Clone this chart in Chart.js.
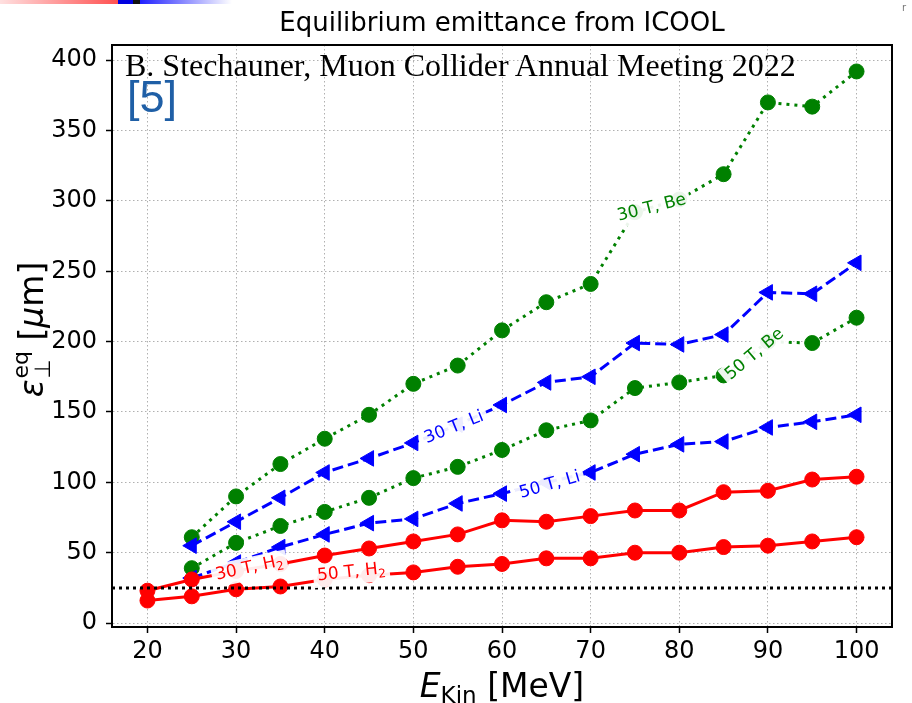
<!DOCTYPE html>
<html>
<head>
<meta charset="utf-8">
<script src="https://cdn.jsdelivr.net/npm/chart.js@4.4.0/dist/chart.umd.min.js"></script>
<style>
  html, body { margin: 0; padding: 0; background: #fff; }
  #wrap { position: relative; width: 912px; height: 703px; }
  #stripA { position: absolute; left: 0; top: 0; width: 118px; height: 4px; background: linear-gradient(to right, #ffe0e0, #ff5050); }
  #stripB { position: absolute; left: 118px; top: 0; width: 15px; height: 4px; background: #0000e0; }
  #stripC { position: absolute; left: 133px; top: 0; width: 7px; height: 4px; background: #111; }
  #stripD { position: absolute; left: 140px; top: 0; width: 92px; height: 4px; background: linear-gradient(to right, #2020ff, #ffffff); }
  #corner { position: absolute; left: 902px; top: 2px; font: 10px "DejaVu Sans"; color: #777; }
  #author { position: absolute; left: 125px; top: 47px; font: 32px "Liberation Serif"; color: #000; white-space: nowrap; }
  #ref { position: absolute; left: 127px; top: 71px; font: 45px "Liberation Sans"; color: #1f5fa6; }
</style>
</head>
<body>
<div id="wrap">
  <canvas id="myChart" width="912" height="703"></canvas>
  <div id="stripA"></div><div id="stripB"></div><div id="stripC"></div><div id="stripD"></div>
  <div id="corner">r</div>
  <div id="author">B. Stechauner, Muon Collider Annual Meeting 2022</div>
  <div id="ref">[5]</div>
</div>
<script>
// Daten
const energy = [20, 25, 30, 35, 40, 45, 50, 55, 60, 65, 70, 75, 80, 85, 90, 95, 100];
const be30 = [null, 61, 90, 113, 131, 148, 170, 183, 208, 228, 241, 292, 301, 319, 370, 367, 392];
const li30 = [null, 55, 72, 89, 107, 117, 128, 141, 155, 171, 175, 199, 198, 205, 235, 234, 256];
const be50 = [null, 39, 57, 69, 79, 89, 103, 111, 123, 137, 144, 167, 171, 176, 200, 199, 217];
const li50 = [null, 32, 43, 54, 63, 71, 74, 85, 92, 100, 107, 120, 127, 129, 139, 143, 148];
const h2_30 = [23, 31, 37, 42, 48, 53, 58, 63, 73, 72, 76, 80, 80, 93, 94, 102, 104];
const h2_50 = [16, 19, 24, 26, 31, 34, 36, 40, 42, 46, 46, 50, 50, 54, 55, 58, 61];
const limitLine = [25, 25];
const limitX = [16, 104];
const xTicks = [20, 30, 40, 50, 60, 70, 80, 90, 100];
const yTicks = [0, 50, 100, 150, 200, 250, 300, 350, 400];

// Inline-Beschriftungen: [Text, x, y, Winkel, Farbe, Index]
const lineLabels = [
  ['30 T, Be', 76.9, 295, -14, 'green', false],
  ['50 T, Be', 88.5, 191, -40, 'green', false],
  ['30 T, Li', 54.6, 139, -22, 'blue', false],
  ['50 T, Li', 65.4, 98, -16, 'blue', false],
  ['30 T, H', 31.5, 39, -12, 'red', true],
  ['50 T, H', 43.0, 36, -6, 'red', true],
];

function pts(vals) {
  return vals.map((v, i) => ({ x: energy[i], y: v }));
}

const FONT = '"DejaVu Sans", sans-serif';

const labelPlugin = {
  id: 'labels',
  afterDatasetsDraw(chart) {
    const ctx = chart.ctx;
    const xs = chart.scales.x, ys = chart.scales.y;
    lineLabels.forEach(([txt, lx, ly, ang, col, sub]) => {
      const px = xs.getPixelForValue(lx), py = ys.getPixelForValue(ly);
      ctx.save();
      ctx.translate(px, py);
      ctx.rotate(ang * Math.PI / 180);
      ctx.font = '17px ' + FONT;
      let w = ctx.measureText(txt).width;
      let ws = 0;
      if (sub) { ctx.font = '12px ' + FONT; ws = ctx.measureText('2').width; }
      const tw = w + ws;
      ctx.fillStyle = 'rgba(255,255,255,0.92)';
      ctx.fillRect(-tw / 2 - 4, -11, tw + 8, 23);
      ctx.fillStyle = col;
      ctx.textBaseline = 'middle';
      ctx.font = '17px ' + FONT;
      ctx.fillText(txt, -tw / 2, 0);
      if (sub) { ctx.font = '12px ' + FONT; ctx.fillText('2', -tw / 2 + w, 5); }
      ctx.restore();
    });
  },
  afterDraw(chart) {
    const ctx = chart.ctx;
    const a = chart.chartArea;
    ctx.save();
    ctx.strokeStyle = '#000';
    ctx.lineWidth = 2;
    ctx.strokeRect(a.left, a.top, a.right - a.left, a.bottom - a.top);
    // Titel
    ctx.fillStyle = '#000';
    ctx.font = '26px ' + FONT;
    ctx.textAlign = 'center';
    ctx.textBaseline = 'alphabetic';
    ctx.fillText('Equilibrium emittance from ICOOL', (a.left + a.right) / 2, 31);
    ctx.textAlign = 'left';
    // x-Achsenbeschriftung
    const segX = [
      ['E', 'italic 33px ' + FONT, 0],
      ['Kin', '23px ' + FONT, 6],
      [' [MeV]', '33px ' + FONT, 0],
    ];
    let total = 0;
    segX.forEach(s => { ctx.font = s[1]; total += ctx.measureText(s[0]).width; });
    let cx = (a.left + a.right) / 2 - total / 2;
    segX.forEach(s => { ctx.font = s[1]; ctx.fillText(s[0], cx, 697 + s[2]); cx += ctx.measureText(s[0]).width; });
    // y-Achsenbeschriftung
    ctx.translate(43, 330);
    ctx.rotate(-Math.PI / 2);
    ctx.font = 'italic 33px ' + FONT;
    const we = ctx.measureText('\u03b5').width;
    ctx.font = '22px ' + FONT;
    const wsub = Math.max(ctx.measureText('\u22a5').width, ctx.measureText('eq').width);
    ctx.font = '33px ' + FONT;
    const wb = ctx.measureText(' [').width;
    ctx.font = 'italic 33px ' + FONT;
    const wmu = ctx.measureText('\u03bc').width;
    ctx.font = '33px ' + FONT;
    const wm = ctx.measureText('m]').width;
    const tot = we + wsub + wb + wmu + wm;
    let yx = -tot / 2;
    ctx.font = 'italic 33px ' + FONT;
    ctx.fillText('\u03b5', yx, 0); yx += we + 1;
    ctx.font = '22px ' + FONT;
    ctx.fillText('\u22a5', yx, 7);
    ctx.fillText('eq', yx, -15); yx += wsub;
    ctx.font = '33px ' + FONT;
    ctx.fillText(' [', yx, 0); yx += wb;
    ctx.font = 'italic 33px ' + FONT;
    ctx.fillText('\u03bc', yx, 0); yx += wmu;
    ctx.font = '33px ' + FONT;
    ctx.fillText('m]', yx, 0);
    ctx.restore();
  }
};

function series(vals, color, dash, style) {
  return {
    data: pts(vals),
    borderColor: color,
    backgroundColor: color,
    borderWidth: 3,
    borderDash: dash,
    pointStyle: style,
    pointRotation: style === 'triangle' ? -90 : 0,
    pointRadius: style === 'triangle' ? 9 : 7.5,
    pointBorderWidth: 1,
    tension: 0,
    spanGaps: false,
  };
}

const ctx = document.getElementById('myChart').getContext('2d');
const myChart = new Chart(ctx, {
  type: 'line',
  data: {
    datasets: [
      {
        data: limitX.map((x, i) => ({ x: x, y: limitLine[i] })),
        borderColor: '#000',
        borderWidth: 3,
        borderDash: [3, 4],
        pointRadius: 0,
      },
      series(h2_50, 'red', [], 'circle'),
      series(h2_30, 'red', [], 'circle'),
      series(li50, 'blue', [11, 5], 'triangle'),
      series(be50, 'green', [3, 5], 'circle'),
      series(li30, 'blue', [11, 5], 'triangle'),
      series(be30, 'green', [3, 5], 'circle'),
    ]
  },
  options: {
    responsive: false,
    animation: false,
    layout: { padding: { top: 45, right: 20, left: 0, bottom: 0 } },
    plugins: {
      legend: { display: false },
      title: { display: false },
      tooltip: { enabled: false },
    },
    scales: {
      x: {
        type: 'linear',
        min: 16,
        max: 104,
        afterFit: s => { s.height = 76; },
        afterBuildTicks: s => { s.ticks = xTicks.map(v => ({ value: v })); },
        ticks: { color: '#000', font: { family: 'DejaVu Sans', size: 24 }, padding: 4, maxRotation: 0 },
        grid: { color: '#b0b0b0', lineWidth: 1, tickColor: '#000', tickLength: 6, tickWidth: 1.5 },
        border: { display: true, color: '#000', width: 2, dash: [1.5, 2.5] },
      },
      y: {
        min: -2.8,
        max: 410.8,
        afterFit: s => { s.width = 112; },
        afterBuildTicks: s => { s.ticks = yTicks.map(v => ({ value: v })); },
        ticks: { color: '#000', font: { family: 'DejaVu Sans', size: 24 }, padding: 9 },
        grid: { color: '#b0b0b0', lineWidth: 1, tickColor: '#000', tickLength: 6, tickWidth: 1.5 },
        border: { display: true, color: '#000', width: 2, dash: [1.5, 2.5] },
      }
    }
  },
  plugins: [labelPlugin]
});
</script>
</body>
</html>
